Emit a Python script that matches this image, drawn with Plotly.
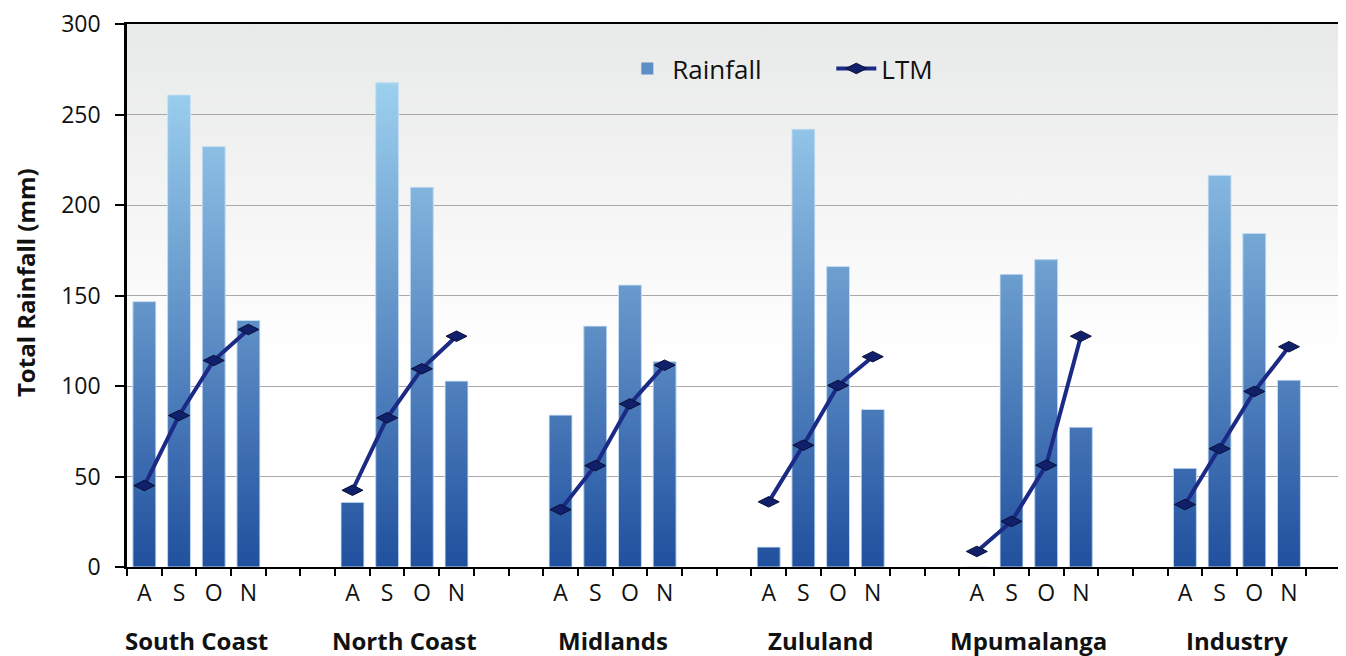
import base64
import plotly.graph_objects as go

regions = ["South Coast", "North Coast", "Midlands", "Zululand", "Mpumalanga", "Industry"]
months = ["A", "S", "O", "N"]

rain_south_coast = [146.6, 260.8, 232.3, 136.2]
rain_north_coast = [35.7, 267.5, 209.8, 102.7]
rain_midlands = [83.9, 133.1, 155.8, 113.4]
rain_zululand = [11.0, 241.9, 166.0, 87.0]
rain_mpumalanga = [0.0, 161.7, 169.8, 77.2]
rain_industry = [54.5, 216.4, 184.3, 103.2]

ltm_south_coast = [45.0, 83.7, 114.1, 131.2]
ltm_north_coast = [42.4, 82.4, 109.5, 127.5]
ltm_midlands = [31.7, 56.0, 90.1, 111.5]
ltm_zululand = [36.0, 67.3, 100.3, 116.2]
ltm_mpumalanga = [8.6, 25.2, 56.2, 127.5]
ltm_industry = [34.5, 65.4, 97.0, 121.7]

y_ticks = [0, 50, 100, 150, 200, 250, 300]

rain = [rain_south_coast, rain_north_coast, rain_midlands, rain_zululand, rain_mpumalanga, rain_industry]
ltm = [ltm_south_coast, ltm_north_coast, ltm_midlands, ltm_zululand, ltm_mpumalanga, ltm_industry]

SLOTS = 6  # 4 months + 2 empty slots per region
bar_x, bar_y, line_x, line_y, tick_pos, tick_txt = [], [], [], [], [], []
for g in range(len(regions)):
    for m, mon in enumerate(months):
        p = g * SLOTS + m
        bar_x.append(p)
        bar_y.append(rain[g][m])
        line_x.append(p)
        line_y.append(ltm[g][m])
        tick_pos.append(p)
        tick_txt.append(mon)
    line_x.append(g * SLOTS + 4)
    line_y.append(None)

n_slots = (len(regions) - 1) * SLOTS + 5
boundaries = [i - 0.5 for i in range(n_slots + 1)]

BOTTOM = (33, 80, 158)
TOP = (172, 224, 249)


def grad_color(v):
    t = max(0.0, min(1.0, v / 300.0))
    c = [round(BOTTOM[i] + (TOP[i] - BOTTOM[i]) * t) for i in range(3)]
    return "rgb(%d,%d,%d)" % tuple(c)


fig = go.Figure()

# full-value bars (legend entry)
fig.add_trace(go.Bar(
    x=bar_x, y=bar_y, name="Rainfall", width=0.66,
    marker=dict(color=grad_color(130), line=dict(width=0)),
))

# gradient: overlapping slices of each bar, coloured by absolute height
step = 1.5
level = 0.0
vmax = max(bar_y)
while level < vmax:
    ys = [max(0.0, min(step * 2, v - level)) for v in bar_y]
    fig.add_trace(go.Bar(
        x=bar_x, y=ys, base=[level] * len(ys), width=0.66, showlegend=False,
        marker=dict(color=grad_color(level + step / 2), line=dict(width=0)),
        hoverinfo="skip",
    ))
    level += step

# light outline on bars
fig.add_trace(go.Bar(
    x=bar_x, y=bar_y, width=0.66, showlegend=False, hoverinfo="skip",
    marker=dict(color="rgba(0,0,0,0)", line=dict(color="rgba(215,232,248,0.85)", width=1)),
))

fig.add_trace(go.Scatter(
    x=line_x, y=line_y, name="LTM", mode="lines+markers",
    line=dict(color="#1b2a85", width=4),
    marker=dict(symbol="diamond-wide", size=15, color="#10206a",
                line=dict(color="#0a0f35", width=1)),
    connectgaps=False,
))

svg = ('<svg xmlns="http://www.w3.org/2000/svg" width="100" height="100" '
       'viewBox="0 0 100 100" preserveAspectRatio="none">'
       '<defs><linearGradient id="g" x1="0" y1="0" x2="0" y2="1">'
       '<stop offset="0" stop-color="#e8e9e9"/>'
       '<stop offset="0.62" stop-color="#ffffff"/>'
       '<stop offset="1" stop-color="#ffffff"/></linearGradient></defs>'
       '<rect width="100" height="100" fill="url(#g)"/></svg>')
bg_src = "data:image/svg+xml;base64," + base64.b64encode(svg.encode()).decode()

FONT = "Open Sans"

annotations = []
for g, name in enumerate(regions):
    annotations.append(dict(
        x=g * SLOTS + 1.5, xref="x", y=-0.136, yref="paper",
        text="<b>%s</b>" % name, showarrow=False,
        font=dict(family=FONT, size=24, color="#111111"),
        xanchor="center", yanchor="middle",
    ))
annotations.append(dict(
    x=-0.084, xref="paper", y=0.523, yref="paper",
    text="<b>Total Rainfall (mm)</b>", textangle=-90, showarrow=False,
    font=dict(family=FONT, size=24, color="#111111"),
    xanchor="center", yanchor="middle",
))

# page body has an 8px margin: size the figure so the plot lands where intended
fig.update_layout(
    width=1338, height=648,
    margin=dict(l=119, r=5, t=16, b=89),
    paper_bgcolor="white",
    plot_bgcolor="rgba(0,0,0,0)",
    barmode="overlay",
    font=dict(family=FONT, size=22, color="#111111"),
    images=[dict(source=bg_src, xref="paper", yref="paper", x=0, y=1,
                 sizex=1, sizey=1, xanchor="left", yanchor="top",
                 sizing="stretch", layer="below")],
    legend=dict(orientation="h", x=0.408, y=0.918, xanchor="left", yanchor="middle",
                bgcolor="rgba(0,0,0,0)", font=dict(family=FONT, size=26, color="#111111"),
                entrywidth=154, itemwidth=40),
    annotations=annotations,
    showlegend=True,
)

fig.update_xaxes(
    range=[-0.5, n_slots - 0.5], automargin=False,
    tickmode="array", tickvals=tick_pos, ticktext=tick_txt,
    ticks="", ticklabelstandoff=4,
    showgrid=False, zeroline=False,
    showline=True, linecolor="black", linewidth=2, mirror=True,
    tickfont=dict(family=FONT, size=23, color="#111111"),
    minor=dict(tickmode="array", tickvals=boundaries, ticks="outside",
               ticklen=7, tickwidth=2, tickcolor="black", showgrid=False),
)

fig.update_yaxes(
    range=[0, 300], tickmode="array", tickvals=y_ticks, automargin=False,
    ticks="outside", ticklen=9, tickwidth=2, tickcolor="black",
    ticklabelstandoff=10, ticklabeloverflow="allow",
    showgrid=True, gridcolor="#a8a8a8", gridwidth=1, zeroline=False,
    showline=True, linecolor="black", linewidth=2.5, mirror=True,
    tickfont=dict(family=FONT, size=23, color="#111111"),
)

fig.write_html("out.html")
